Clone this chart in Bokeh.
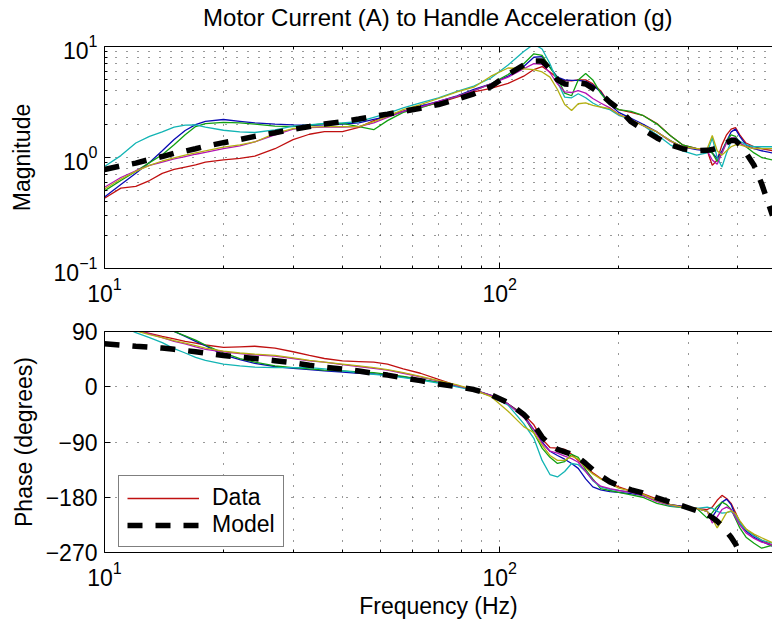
from bokeh.plotting import figure
from bokeh.layouts import column
from bokeh.models import LogAxis, FixedTicker, Range1d, Legend, LegendItem
from bokeh.embed import file_html
from bokeh.resources import INLINE

# ---------------- data ----------------
FREQ = [10, 11, 12, 13, 14, 15, 16, 17, 18,
        20, 22, 24, 27, 30, 33, 36,
        40, 44, 48, 52, 57, 63, 70,
        78, 86, 95, 105, 115, 122, 128,
        134, 140, 146, 152, 158, 165, 172,
        180, 190, 200, 215, 230, 250, 270,
        290, 315, 335, 345, 355, 365, 375,
        385, 395, 405, 420, 440, 460, 490]

MAG_RED = [0.43, 0.53, 0.55, 0.62, 0.72, 0.78, 0.82, 0.86, 0.91,
           0.95, 0.98, 1.03, 1.2, 1.45, 1.62, 1.71,
           1.71, 1.87, 2.15, 2.4, 2.62, 2.85, 3.1,
           3.5, 3.9, 4.2, 4.65, 5.4, 6.2, 6.6,
           5.9, 5.2, 4.95, 4.9, 5.0, 5.0, 4.6,
           4.0, 3.0, 2.7, 2.55, 2.4, 2.02, 1.58,
           1.3, 1.2, 1.15, 0.85, 0.95, 1.3, 1.6,
           1.8, 1.86, 1.6, 1.35, 1.25, 1.2, 1.15]
MAG_BLUE = [0.44, 0.57, 0.72, 0.9, 1.15, 1.45, 1.75, 1.98, 2.12,
            2.2, 2.12, 2.05, 2.0, 1.97, 1.95, 1.97,
            2.0, 2.05, 2.2, 2.35, 2.6, 2.9, 3.2,
            3.6, 4.1, 4.6, 5.4, 6.6, 8.0, 8.1,
            6.5, 5.3, 5.0, 4.95, 4.95, 4.85, 4.5,
            3.9, 3.0, 2.55, 2.25, 2.0, 1.7, 1.42,
            1.25, 1.18, 1.15, 1.1, 0.98, 1.15, 1.4,
            1.7, 1.8, 1.55, 1.3, 1.2, 1.15, 1.1]
MAG_GREEN = [0.50, 0.62, 0.75, 0.9, 1.06, 1.3, 1.6, 1.9, 2.02,
             2.07, 2.05, 2.0, 1.92, 1.9, 1.95, 2.02,
             2.03, 1.9, 1.78, 2.15, 2.55, 2.8, 3.15,
             3.55, 4.0, 4.6, 5.6, 7.0, 8.6, 8.3,
             6.5, 5.2, 3.8, 3.6, 5.0, 5.7, 5.0,
             3.8, 3.0, 2.7, 2.6, 2.4, 2.0, 1.58,
             1.3, 1.2, 1.15, 1.1, 0.92, 1.1, 1.4,
             1.6, 1.55, 1.35, 1.25, 1.1, 1.0, 0.95]
MAG_CYAN = [0.83, 1.04, 1.35, 1.55, 1.7, 1.88, 1.96, 1.97, 1.88,
            1.76, 1.7, 1.68, 1.77, 1.92, 1.97, 2.03,
            2.05, 2.1, 2.3, 2.5, 2.8, 3.1, 3.45,
            3.95, 4.4, 5.2, 6.8, 9.0, 10.5, 9.5,
            7.0, 4.8, 3.5, 3.45, 3.75, 3.45, 3.1,
            2.85, 2.7, 2.4, 2.2, 1.95, 1.6, 1.3,
            1.15, 1.05, 1.1, 1.5, 1.0, 0.82, 1.1,
            1.4, 1.5, 1.4, 1.3, 1.25, 1.25, 1.25]
MAG_MAGENTA = [0.54, 0.66, 0.76, 0.85, 0.91, 0.97, 1.02, 1.07, 1.11,
               1.2, 1.27, 1.38, 1.6, 1.8, 1.86, 1.88,
               1.88, 1.9, 2.05, 2.3, 2.6, 2.85, 3.2,
               3.55, 4.0, 4.6, 5.3, 6.3, 7.0, 6.9,
               5.8, 4.6, 3.9, 3.85, 4.0, 3.8, 3.4,
               3.1, 2.8, 2.45, 2.2, 1.95, 1.7, 1.4,
               1.25, 1.2, 1.15, 0.95, 0.87, 1.1, 1.35,
               1.5, 1.5, 1.35, 1.25, 1.2, 1.2, 1.2]
MAG_YELLOW = [0.52, 0.64, 0.75, 0.85, 0.93, 0.99, 1.05, 1.1, 1.15,
              1.24, 1.3, 1.38, 1.65, 1.82, 1.88, 1.9,
              1.9, 1.9, 2.1, 2.35, 2.7, 3.0, 3.4,
              3.9, 4.3, 5.4, 6.4, 6.3, 6.2, 5.9,
              5.3, 4.1, 3.0, 2.65, 3.05, 3.1, 2.95,
              2.85, 2.75, 2.45, 2.2, 1.95, 1.7, 1.42,
              1.25, 1.2, 1.2, 1.58, 1.15, 1.05, 1.15,
              1.25, 1.3, 1.3, 1.25, 1.2, 1.2, 1.2]
MAG_MODEL = [0.78, 0.84, 0.89, 0.96, 1.02, 1.09, 1.14, 1.2, 1.26,
             1.36, 1.45, 1.55, 1.67, 1.8, 1.9, 2.0,
             2.1, 2.22, 2.35, 2.46, 2.6, 2.78, 3.0,
             3.35, 3.75, 4.35, 5.6, 6.8, 7.4, 7.4,
             6.3, 5.0, 4.6, 4.55, 4.7, 4.6, 4.2,
             3.75, 3.15, 2.75, 2.1, 1.8, 1.5, 1.3,
             1.2, 1.15, 1.16, 1.18, 1.22, 1.28, 1.36,
             1.42, 1.42, 1.3, 1.1, 0.85, 0.58, 0.3]

PH_RED = [110, 100, 92, 87, 82, 78, 74, 71, 68,
          64, 65, 66, 63, 57, 51, 46,
          42, 41, 40, 37, 29, 22, 12,
          2, -6, -15, -28, -45, -62, -85,
          -99, -100, -102, -110, -120, -131, -140,
          -149, -157, -163, -170, -174, -183, -192,
          -195, -198, -200, -196, -185, -177, -182,
          -190, -205, -220, -232, -242, -250, -258]
PH_BLUE = [150, 140, 120, 108, 98, 90, 82, 74, 67,
           52, 44, 38, 33, 30, 28, 26,
           24, 22, 21, 19, 16, 12, 7,
           1, -5, -14, -28, -47, -70, -90,
           -105, -112, -118, -125, -133, -150, -163,
           -168, -171, -172, -174, -177, -185, -192,
           -195, -198, -203, -212, -200, -188, -183,
           -192, -210, -222, -235, -245, -252, -260]
PH_GREEN = [150, 140, 125, 112, 100, 90, 83, 76, 68,
            55, 46, 40, 34, 31, 29, 27,
            26, 24, 23, 20, 17, 12, 7,
            1, -5, -14, -28, -48, -75, -100,
            -115, -125, -122, -110, -115, -135, -150,
            -166, -169, -172, -176, -180, -190, -195,
            -197, -198, -214, -205, -195, -188, -192,
            -200, -215, -230, -245, -255, -263, -258]
PH_CYAN = [130, 100, 88, 80, 72, 62, 55, 48, 43,
           37, 34, 32, 31, 31, 31, 29,
           26, 23, 20, 18, 15, 11, 6,
           0, -6, -15, -30, -60, -84, -120,
           -143, -147, -138, -125, -127, -138, -153,
           -163, -167, -169, -172, -176, -186, -194,
           -196, -198, -196, -198, -203, -206, -205,
           -203, -210, -222, -233, -243, -250, -255]
PH_MAGENTA = [120, 100, 92, 86, 80, 74, 70, 65, 61,
              57, 54, 52, 50, 46, 42, 40,
              36, 33, 30, 27, 22, 16, 9,
              2, -5, -14, -28, -50, -70, -92,
              -105, -108, -113, -117, -123, -138, -152,
              -162, -166, -169, -172, -177, -187, -193,
              -196, -198, -203, -222, -212, -200, -196,
              -200, -213, -225, -238, -247, -253, -258]
PH_YELLOW = [118, 100, 91, 85, 80, 75, 71, 67, 63,
             58, 55, 53, 51, 47, 43, 40,
             37, 34, 31, 28, 23, 17, 10,
             3, -5, -16, -40, -65, -75, -95,
             -112, -120, -120, -113, -118, -132, -142,
             -150, -158, -165, -170, -175, -185, -192,
             -196, -198, -203, -215, -230, -218, -205,
             -202, -207, -218, -232, -240, -246, -254]
PH_MODEL = [70, 68, 66, 64.5, 63, 61, 59, 57, 55,
            51, 48, 46, 42.5, 39, 35, 32,
            29, 25.5, 22, 19, 14.5, 10, 4.5,
            0, -4.5, -13, -26, -45, -62, -82,
            -95, -102, -106, -110, -115, -125, -135,
            -145, -155, -161, -168, -173, -181, -188,
            -194, -202, -208, -213, -219, -227, -236,
            -245, -256, -272, -295, -320, -340, -360]

X_MAJOR = [10, 100]
X_MINOR = [20, 30, 40, 50, 60, 70, 80, 90, 200, 300, 400]
MAG_MAJOR = [0.1, 1, 10]
MAG_MINOR = [0.2, 0.3, 0.4, 0.5, 0.6, 0.7, 0.8, 0.9, 2, 3, 4, 5, 6, 7, 8, 9]
PH_TICKS = [-270, -180, -90, 0, 90]
PH_LABELS = ["\u2212270", "\u2212180", "\u221290", "0", "90"]

TITLE = "Motor Current (A) to Handle Acceleration (g)"
Y1_LABEL = "Magnitude"
Y2_LABEL = "Phase (degrees)"
X_LABEL = "Frequency (Hz)"
LEGEND_LABELS = ["Data", "Model"]

SERIES_COLORS = ["#c01010", "#0a0ab4", "#12a012", "#12b4b4", "#b412b4", "#b4b012"]
MAGS = [MAG_RED, MAG_BLUE, MAG_GREEN, MAG_CYAN, MAG_MAGENTA, MAG_YELLOW]
PHASES = [PH_RED, PH_BLUE, PH_GREEN, PH_CYAN, PH_MAGENTA, PH_YELLOW]

FONT = "Liberation Sans"
FS = "23px"
GRID_COLOR = "#333333"
GRID_DASH = "1 10"


def style_axis(ax, standoff=7):
    ax.major_label_text_font = FONT
    ax.major_label_text_font_size = FS
    ax.major_label_text_color = "black"
    ax.axis_label_text_font = FONT
    ax.axis_label_text_font_size = FS
    ax.axis_label_text_font_style = "normal"
    ax.axis_label_text_color = "black"
    ax.major_tick_in = 6
    ax.major_tick_out = 0
    ax.minor_tick_in = 3
    ax.minor_tick_out = 0
    ax.axis_line_color = "black"
    ax.major_tick_line_color = "black"
    ax.minor_tick_line_color = "black"
    ax.major_label_standoff = standoff


def make_fig(height, y_type, y_range, top, bottom):
    p = figure(width=772, height=height, x_axis_type="log", y_axis_type=y_type,
               x_range=Range1d(10, 490), y_range=y_range,
               output_backend="svg", toolbar_location=None,
               min_border_left=104, min_border_right=0,
               min_border_top=top, min_border_bottom=bottom)
    p.outline_line_color = None
    p.background_fill_color = "white"
    p.border_fill_color = "white"
    bottom_ax = p.below[0]
    bottom_ax.ticker = FixedTicker(ticks=X_MAJOR, minor_ticks=X_MINOR)
    style_axis(bottom_ax, 8)
    style_axis(p.left[0], 7)
    # top border with inward ticks (labels hidden)
    top_ax = LogAxis(ticker=FixedTicker(ticks=X_MAJOR, minor_ticks=X_MINOR))
    style_axis(top_ax, 0)
    top_ax.major_label_text_font_size = "1px"
    top_ax.major_label_text_alpha = 0
    p.add_layout(top_ax, "above")
    for g in (p.xgrid[0], p.ygrid[0]):
        g.grid_line_color = GRID_COLOR
        g.grid_line_dash = GRID_DASH
        g.grid_line_width = 1
    p.xgrid[0].minor_grid_line_color = GRID_COLOR
    p.xgrid[0].minor_grid_line_dash = GRID_DASH
    return p, bottom_ax, top_ax


# ---------------- magnitude ----------------
p1, p1_xaxis, p1_top = make_fig(310, "log", Range1d(0.1, 10), 46, 42)
p1.left[0].ticker = FixedTicker(ticks=MAG_MAJOR, minor_ticks=MAG_MINOR)
p1.ygrid[0].minor_grid_line_color = GRID_COLOR
p1.ygrid[0].minor_grid_line_dash = GRID_DASH
p1.left[0].axis_label = Y1_LABEL
p1.left[0].axis_label_standoff = 16
# the title sits above the top border
p1_top.axis_label = TITLE
p1_top.axis_label_text_font_size = "24px"
p1_top.axis_label_standoff = 16
for mag, col in zip(MAGS, SERIES_COLORS):
    p1.line(FREQ, mag, line_color=col, line_width=1.3)
p1.line(FREQ, MAG_MODEL, line_color="black", line_width=5.5, line_dash="15 13")

# ---------------- phase ----------------
p2, p2_xaxis, p2_top = make_fig(314, "linear", Range1d(-270, 90), 21, 72)
p2.left[0].ticker = FixedTicker(ticks=PH_TICKS, minor_ticks=[])
p2.left[0].major_label_overrides = {t: s for t, s in zip(PH_TICKS, PH_LABELS)}
p2.left[0].axis_label = Y2_LABEL
p2.left[0].axis_label_standoff = 6
p2_xaxis.axis_label = X_LABEL
p2_xaxis.axis_label_standoff = 4
renderers = []
for ph, col in zip(PHASES, SERIES_COLORS):
    renderers.append(p2.line(FREQ, ph, line_color=col, line_width=1.3))
r_model = p2.line(FREQ, PH_MODEL, line_color="black", line_width=5.5, line_dash="15 13")

legend = Legend(items=[LegendItem(label=LEGEND_LABELS[0], renderers=[renderers[0]]),
                       LegendItem(label=LEGEND_LABELS[1], renderers=[r_model])],
                location=(14, 5), label_text_font=FONT, label_text_font_size=FS,
                label_text_color="black", glyph_width=72, glyph_height=20,
                label_standoff=13, padding=8, spacing=0, margin=0,
                border_line_color="black", border_line_width=1,
                background_fill_color="white", background_fill_alpha=1)
p2.add_layout(legend)

layout = column(p1, p2, spacing=0)
open("out.html", "w").write(file_html(layout, INLINE, "Bode plot"))
